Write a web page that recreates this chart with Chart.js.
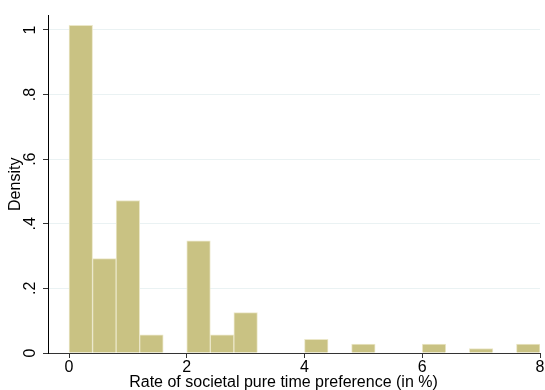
<!DOCTYPE html>
<html>
<head>
<meta charset="utf-8">
<script src="https://cdn.jsdelivr.net/npm/chart.js@4/dist/chart.umd.min.js"></script>
<style>
  html, body { margin: 0; padding: 0; background: #fff; }
  #wrap { width: 545px; height: 390px; position: relative; }
</style>
</head>
<body>
<div id="wrap"><canvas id="c" width="545" height="390"></canvas></div>
<script>
// Histogram bins (width 0.4), start of each bin, in %
const binStarts = [0, 0.4, 0.8, 1.2, 1.6, 2.0, 2.4, 2.8, 3.2, 3.6, 4.0, 4.4, 4.8, 5.2, 5.6, 6.0, 6.4, 6.8, 7.2, 7.6];
const binWidth = 0.4;
// Density
const densities = [1.014, 0.292, 0.472, 0.056, 0, 0.347, 0.056, 0.125, 0, 0, 0.042, 0, 0.028, 0, 0, 0.028, 0, 0.014, 0, 0.028];
const xTicks = [0, 2, 4, 6, 8];
const xTickLabels = ['0', '2', '4', '6', '8'];
const yTicks = [0, 0.2, 0.4, 0.6, 0.8, 1];
const yTickLabels = ['0', '.2', '.4', '.6', '.8', '1'];
const xTitle = 'Rate of societal pure time preference (in %)';
const yTitle = 'Density';

const pts = binStarts.map((s, i) => ({ x: s + binWidth / 2, y: densities[i] === 0 ? null : densities[i] }));
const font = { family: 'Liberation Sans, Arial, sans-serif', size: 16 };

// x-axis title drawn as text, centred slightly left of the plot centre as in the original
const xTitlePlugin = {
  id: 'xTitle',
  afterDraw(chart) {
    const ctx = chart.ctx;
    ctx.save();
    ctx.font = '16px "Liberation Sans", Arial, sans-serif';
    ctx.fillStyle = '#000';
    ctx.textAlign = 'center';
    ctx.textBaseline = 'middle';
    ctx.fillText(xTitle, chart.width / 2 + 11, chart.height - 7);
    ctx.restore();
  }
};

new Chart(document.getElementById('c'), {
  type: 'bar',
  data: {
    datasets: [{
      data: pts,
      backgroundColor: '#c9c283',
      borderColor: '#ebe7c8',
      borderWidth: 1,
      borderSkipped: 'bottom',
      barPercentage: 1,
      categoryPercentage: 1
    }]
  },
  plugins: [xTitlePlugin],
  options: {
    responsive: false,
    animation: false,
    devicePixelRatio: 1,
    layout: { padding: { top: 8, right: 5, left: 0, bottom: 0 } },
    plugins: { legend: { display: false }, tooltip: { enabled: false } },
    scales: {
      x: {
        type: 'linear',
        offset: false,
        min: -0.357,
        max: 8,
        afterBuildTicks: s => { s.ticks = xTicks.map(v => ({ value: v })); },
        afterFit: s => { s.height = 37; },
        ticks: {
          font: font, color: '#000', padding: 0, maxRotation: 0,
          callback: (v) => { const i = xTicks.indexOf(v); return i >= 0 ? xTickLabels[i] : ''; }
        },
        grid: { drawOnChartArea: false, drawTicks: true, tickLength: 5, tickColor: '#333', color: '#333', offset: false },
        border: { display: true, color: '#333', width: 1 },
        title: { display: false }
      },
      y: {
        type: 'linear',
        min: 0,
        max: 1.0445,
        afterBuildTicks: s => { s.ticks = yTicks.map(v => ({ value: v })); },
        afterFit: s => { s.width = 48; },
        ticks: {
          font: font, color: '#000', padding: 6, minRotation: 90, maxRotation: 90, crossAlign: 'center',
          callback: (v) => { const i = yTicks.findIndex(t => Math.abs(t - v) < 1e-9); return i >= 0 ? yTickLabels[i] : ''; }
        },
        grid: { drawOnChartArea: true, color: '#eaf2f3', drawTicks: true, tickLength: 5, tickColor: '#333' },
        border: { display: true, color: '#000', width: 1 },
        title: { display: true, text: yTitle, font: font, color: '#000', padding: { top: 6, bottom: 0 } }
      }
    }
  }
});
</script>
</body>
</html>
